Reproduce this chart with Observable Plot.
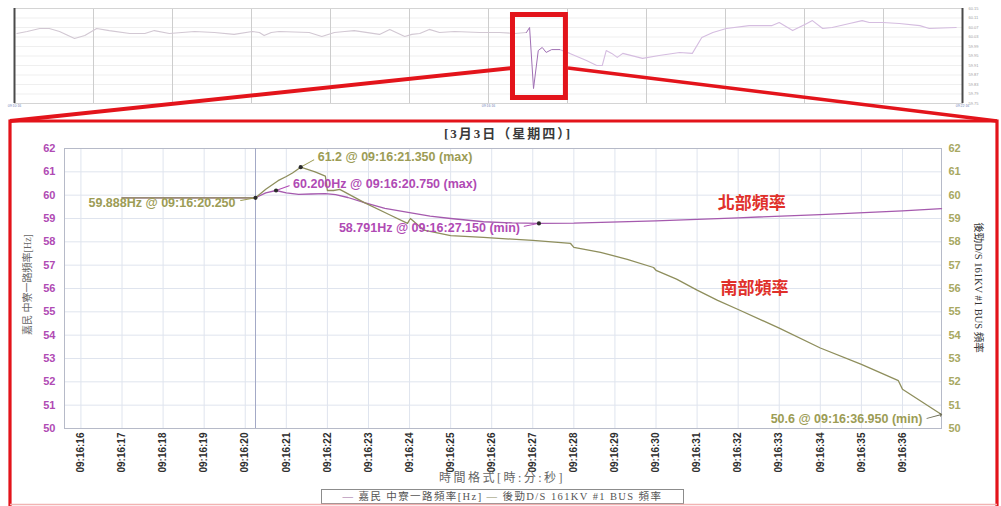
<!DOCTYPE html>
<html><head><meta charset="utf-8">
<script src="https://cdn.jsdelivr.net/npm/d3@7"></script>
<script src="https://cdn.jsdelivr.net/npm/@observablehq/plot@0.6"></script>
<style>
body{margin:0;background:#fff;}
#wrap{position:relative;width:1001px;height:506px;overflow:hidden;background:#fff;}
#overview{position:absolute;left:0;top:0;}
#main{position:absolute;left:0;top:120px;}
#deco{position:absolute;left:0;top:0;pointer-events:none;}
.serif{font-family:"Liberation Serif","Noto Sans CJK TC",serif;}
#title{position:absolute;left:408px;top:126px;width:200px;text-align:center;font-weight:bold;font-size:13px;line-height:16px;color:#3a3a3a;letter-spacing:2px;white-space:nowrap;}
#xtitle{position:absolute;left:402px;top:471px;width:200px;text-align:center;font-size:12px;line-height:15px;color:#666;letter-spacing:2.5px;white-space:nowrap;}
#legend{position:absolute;left:321px;top:489px;width:361px;height:13px;border:1px solid #8c8c8c;font-size:10.5px;line-height:13px;color:#555;text-align:center;letter-spacing:1.4px;white-space:nowrap;background:#fff;}
</style></head>
<body>
<div id="wrap">
  <div id="overview"></div>
  <div id="main"></div>
  <div id="title" class="serif">[3月3日（星期四）]</div>
  <div id="xtitle" class="serif">時間格式[時:分:秒]</div>
  <div id="legend" class="serif"><span style="color:#9a6aa2">—</span> 嘉民 中寮一路頻率[Hz] <span style="color:#8a8a62">—</span> 後勁D/S 161KV #1 BUS 頻率</div>
  <svg id="deco" width="1001" height="506">
    <line x1="512" y1="68" x2="10" y2="121" stroke="#e3141b" stroke-width="4"/>
    <line x1="568" y1="68" x2="997" y2="121" stroke="#e3141b" stroke-width="3.5"/>
    <path d="M10,510 L10,121 L997,121 L997,510" fill="none" stroke="#e3141b" stroke-width="3.2"/>
    <line x1="10" y1="504.5" x2="997" y2="504.5" stroke="#f2b3b3" stroke-width="1.5"/>
  </svg>
</div>
<script>
// ---------- overview strip (upper) ----------
const ovU = [0.03,0.16,0.32,0.44,0.57,0.76,0.89,1.04,1.20,1.46,1.65,1.77,1.96,2.28,2.53,2.78,3.01,3.10,3.16,3.25,3.35,3.73,3.89,4.05,4.18,4.30,4.62,4.75,4.94,5.03,5.13,5.25,5.38,5.57,5.89,6.14,6.33,6.48,6.52,6.57,6.63,6.68,6.73,6.80,6.90,7.03,7.24,7.37,7.44,7.49,7.56,7.63,7.70,7.95,8.16,8.42,8.58,8.70,8.84,9.01,9.30,9.59,9.68,9.85,10.03,10.10,10.23,10.35,10.57,10.73,10.82,10.99,11.20,11.46,11.58,11.92];
const ovHz = [60.045,60.053,60.066,60.066,60.053,60.024,60.036,60.066,60.057,60.045,60.045,60.057,60.045,60.053,60.049,60.041,60.053,60.049,60.036,60.049,60.053,60.049,60.032,60.049,60.053,60.057,60.041,60.062,60.032,60.041,60.045,60.062,60.049,60.053,60.049,60.049,60.045,60.049,60.070,59.813,59.973,59.986,59.965,59.977,59.977,59.961,59.931,59.910,59.910,59.973,59.961,59.944,59.961,59.940,59.952,59.965,59.961,60.028,60.049,60.066,60.078,60.078,60.091,60.057,60.087,60.099,60.066,60.070,60.087,60.099,60.091,60.091,60.087,60.078,60.066,60.070];
const ovGrid = [1,2,3,4,5,6,7,8,9,10,11];
const ovTicks = [59.75,59.79,59.83,59.87,59.91,59.95,59.99,60.03,60.07,60.11,60.15];
const ovXTicks = [0, 6, 12];
const ovXLabels = ["09:10:16", "09:16:16", "09:22:16"];
const zoomWindow = {start: 6.31, end: 6.98};
const spikeRange = [6.48, 6.90];

// ---------- detail chart ----------
const secTicks = [16,17,18,19,20,21,22,23,24,25,26,27,28,29,30,31,32,33,34,35,36];
const hzTicks = [50,51,52,53,54,55,56,57,58,59,60,61,62];
const cursorTime = 20.25;

const northTime = [17.0,20.25,20.5,20.75,21.0,21.3,21.6,21.95,22.2,22.5,22.9,23.4,24.0,24.5,25.0,25.8,26.5,27.15,28.0,30.0,32.0,34.0,36.0,36.95];
const northHz   = [59.888,59.888,60.1,60.2,60.1,60.03,60.05,60.07,60.02,59.9,59.68,59.43,59.25,59.1,59.0,58.86,58.81,58.791,58.80,58.90,59.03,59.17,59.33,59.42];

const southTime = [17.0,20.25,20.5,20.8,21.0,21.15,21.35,21.7,21.95,22.0,22.15,22.3,22.9,23.5,23.95,24.02,24.35,25.0,25.8,27.0,27.92,28.0,28.65,29.3,29.94,30.0,30.5,31.0,31.5,32.0,33.0,34.0,35.0,35.9,36.0,36.95];
const southHz   = [59.888,59.888,60.25,60.62,60.8,60.95,61.2,61.0,60.82,60.2,60.2,60.25,59.68,59.17,58.79,59.0,58.5,58.27,58.19,58.06,57.93,57.76,57.55,57.25,56.9,56.78,56.4,55.93,55.49,55.1,54.3,53.45,52.75,52.05,51.68,50.6];

const annTime  = [21.35, 20.75, 20.25, 27.15, 36.95];
const annHz    = [61.2, 60.2, 59.888, 58.791, 50.6];
const annText  = ["61.2 @ 09:16:21.350 (max)", "60.200Hz @ 09:16:20.750 (max)", "59.888Hz @ 09:16:20.250", "58.791Hz @ 09:16:27.150 (min)", "50.6 @ 09:16:36.950 (min)"];
const annSeries = ["south", "north", "south", "north", "south"];

const regionTime = [32.33, 32.40];
const regionHz   = [59.64, 56.0];
const regionText = ["北部頻率", "南部頻率"];

const leftLabel = "嘉民 中寮一路頻率[Hz]";
const rightLabel = "後勁D/S 161KV #1 BUS 頻率";

// ---------- build ----------
const purple = "#a55aae", olive = "#8e8e5c";
const purpleText = "#b04ab4", oliveText = "#9c9c55";
const sans = "Liberation Sans, Arial, sans-serif";
const serif = "'Liberation Serif', 'Noto Sans CJK TC', serif";

const overview = ovU.map((u, i) => ({u, v: ovHz[i]}));
const north = northTime.map((t, i) => ({t, v: northHz[i]}));
const south = southTime.map((t, i) => ({t, v: southHz[i]}));
const anns = annTime.map((t, i) => ({t, v: annHz[i], text: annText[i], series: annSeries[i]}));
const regions = regionTime.map((t, i) => ({t, v: regionHz[i], text: regionText[i]}));

const ov = Plot.plot({
  width: 1001, height: 110,
  marginLeft: 14, marginRight: 39, marginTop: 8, marginBottom: 7,
  x: {domain: [0, 12]},
  y: {domain: [59.75, 60.15]},
  style: {background: "transparent", fontFamily: sans},
  marks: [
    Plot.gridY(ovTicks, {stroke: "#efefef", strokeOpacity: 1}),
    Plot.gridX(ovGrid, {stroke: "#cdcdcd", strokeOpacity: 1}),
    Plot.frame({stroke: "#d4d4d4"}),
    Plot.axisY(ovTicks, {anchor: "right", tickSize: 0, tickPadding: 6, fontSize: 4, fill: "#a0a0a0", tickFormat: d => d.toFixed(2), label: null}),
    Plot.axisX(ovXTicks, {tickSize: 0, tickPadding: 1, fontSize: 3.5, fill: "#7686b8", tickFormat: d => ovXLabels[ovXTicks.indexOf(d)], label: null}),
    Plot.ruleX([0, 12], {stroke: "#4a4a4a", strokeWidth: 2}),
    Plot.line(overview.filter(d => d.u <= spikeRange[0]), {x: "u", y: "v", stroke: "#d2c8d3", strokeWidth: 1.1}),
    Plot.line(overview.filter(d => d.u >= spikeRange[1]), {x: "u", y: "v", stroke: "#d5bde0", strokeWidth: 1.1}),
    Plot.line(overview.filter(d => d.u >= spikeRange[0] && d.u <= spikeRange[1]), {x: "u", y: "v", stroke: "#a070b4", strokeWidth: 1}),
    Plot.rect([zoomWindow], {x1: "start", x2: "end", fill: "none", stroke: "#e3141b", strokeWidth: 5, insetTop: 6.5, insetBottom: 5.5})
  ]
});
document.getElementById("overview").append(ov);

const annStyle = [
  {dx: 17, dy: -10, anchor: "start", rot: 61, len: 15, head: 0.01},
  {dx: 17, dy: -7, anchor: "start", rot: 70, len: 14, head: 0.01},
  {dx: -20, dy: 5, anchor: "end", rot: 260, len: 15, head: 0.01},
  {dx: -19, dy: 5, anchor: "end", rot: 259, len: 15, head: 0.01},
  {dx: -19, dy: 4, anchor: "end", rot: 75, len: 15, head: 1.6}
];

const annMarks = anns.flatMap((a, i) => {
  const s = annStyle[i];
  const col = a.series === "north" ? purpleText : oliveText;
  const vec = i === 4
    ? Plot.vector([a], {x: "t", y: "v", length: s.len, rotate: s.rot, anchor: "end", r: s.head, stroke: "#6f6f58", strokeWidth: 1})
    : Plot.vector([a], {x: "t", y: "v", length: s.len, rotate: s.rot, anchor: "start", r: s.head, stroke: col, strokeWidth: 1});
  return [
    vec,
    Plot.text([a], {x: "t", y: "v", text: "text", dx: s.dx, dy: s.dy, textAnchor: s.anchor, fill: col, fontSize: 12.5, fontWeight: "bold", fontFamily: sans})
  ];
});

const main = Plot.plot({
  width: 1001, height: 386,
  marginTop: 28, marginRight: 60, marginBottom: 78, marginLeft: 64,
  x: {domain: [15.6, 36.95]},
  y: {domain: [50, 62]},
  style: {background: "transparent", fontFamily: sans},
  marks: [
    Plot.gridX(secTicks, {stroke: "#dfe4ee", strokeOpacity: 1}),
    Plot.gridY(hzTicks, {stroke: "#dfe4ee", strokeOpacity: 1}),
    Plot.frame({stroke: "#b6bac8"}),
    Plot.ruleX([cursorTime], {stroke: "#a3a9c6", strokeWidth: 1}),
    Plot.axisX(secTicks, {tickRotate: -90, tickSize: 0, tickPadding: 4, fontSize: 10, fontWeight: "bold", fill: "#2e2e2e", tickFormat: s => "09:16:" + String(s).padStart(2, "0"), label: null}),
    Plot.axisY(hzTicks, {anchor: "left", tickSize: 0, tickPadding: 9, fontSize: 11, fontWeight: "bold", fill: "#b04ab4", label: null}),
    Plot.axisY(hzTicks, {anchor: "right", tickSize: 0, tickPadding: 7, fontSize: 11, fontWeight: "bold", fill: "#a8a862", label: null}),
    Plot.line(north, {x: "t", y: "v", stroke: purple, strokeWidth: 1.3}),
    Plot.line(south, {x: "t", y: "v", stroke: olive, strokeWidth: 1.3}),
    ...annMarks,
    Plot.dot(anns.slice(0, 4), {x: "t", y: "v", r: 2.1, fill: "#2b2b2b"}),
    Plot.text(regions, {x: "t", y: "v", text: "text", fill: "#e0302a", fontSize: 17, fontWeight: "bold", fontFamily: "'Noto Sans CJK TC', sans-serif"}),
    Plot.text([leftLabel], {text: d => d, frameAnchor: "left", textAnchor: "middle", rotate: -90, dx: -37, dy: -4, fontSize: 10, fill: "#666", fontFamily: serif}),
    Plot.text([rightLabel], {text: d => d, frameAnchor: "right", textAnchor: "middle", rotate: 90, dx: 37, dy: -1, fontSize: 10.5, fill: "#333", fontFamily: serif})
  ]
});
document.getElementById("main").append(main);
</script>
</body></html>
